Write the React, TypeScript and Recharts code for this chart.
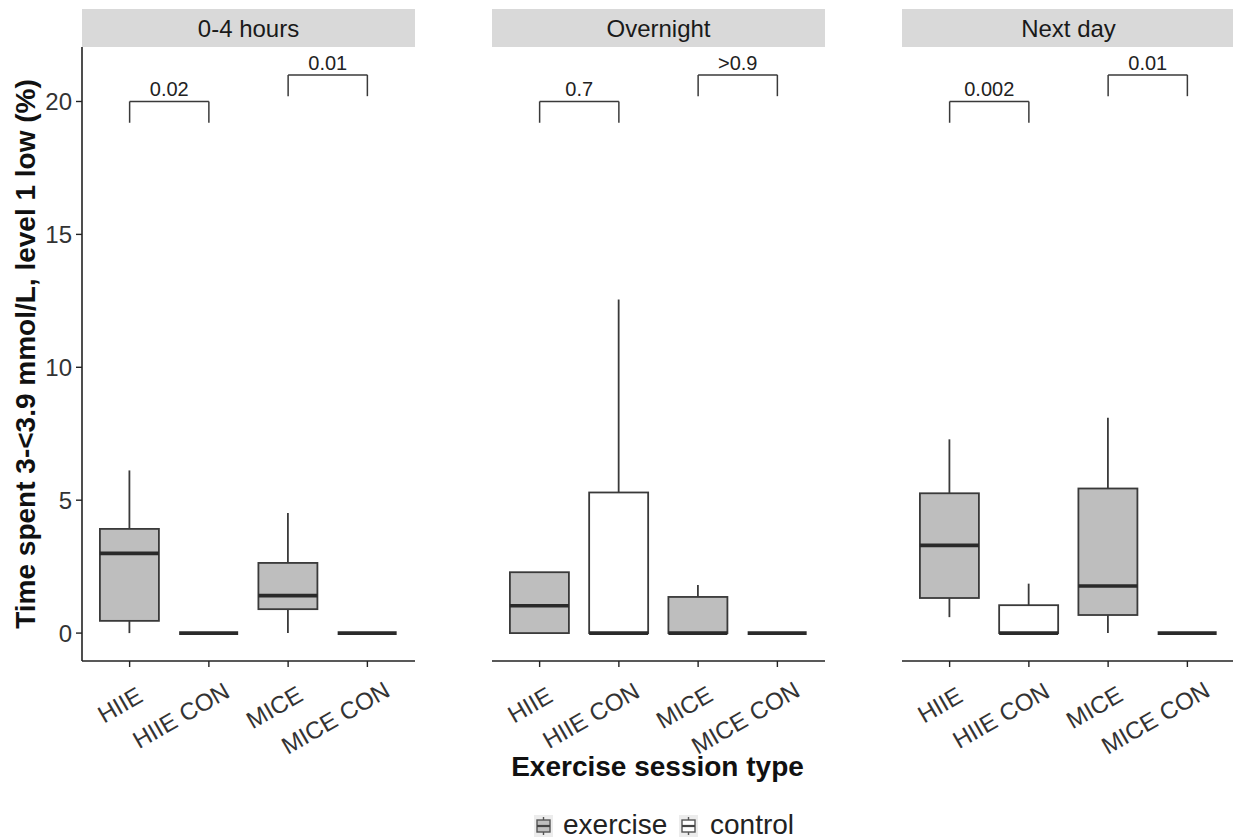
import React from "react";
import { ComposedChart, Bar, XAxis, YAxis, ReferenceLine } from "recharts";

const periods = ["0-4 hours", "Overnight", "Next day"];
const sessions = ["HIIE", "HIIE CON", "MICE", "MICE CON"];
const arms = ["exercise", "control", "exercise", "control"];

// box statistics per period (rows) and session (columns), % of time
const whiskerLow = [
  [0, 0, 0, 0],
  [0, 0, 0, 0],
  [0.6, 0, 0, 0],
];
const hingeLow = [
  [0.46, 0, 0.9, 0],
  [0, 0, 0, 0],
  [1.32, 0, 0.68, 0],
];
const medians = [
  [3.0, 0, 1.41, 0],
  [1.03, 0, 0, 0],
  [3.3, 0, 1.77, 0],
];
const hingeHigh = [
  [3.92, 0, 2.64, 0],
  [2.29, 5.29, 1.36, 0],
  [5.26, 1.05, 5.44, 0],
];
const whiskerHigh = [
  [6.12, 0, 4.52, 0],
  [2.29, 12.55, 1.81, 0],
  [7.29, 1.86, 8.1, 0],
];

// p-values for HIIE vs HIIE CON and MICE vs MICE CON
const pHiie = ["0.02", "0.7", "0.002"];
const pMice = ["0.01", ">0.9", "0.01"];
const bracketLevels = [20, 21];
const bracketTip = 0.8;

const yTicks = [0, 5, 10, 15, 20];
const yDomain = [-1.05, 22.05];

const FONT = '"Liberation Sans", Arial, Helvetica, sans-serif';
const INK = "#3a3a3a";
const TEXT = "#333333";
const EXERCISE_FILL = "#bebebe";
const CONTROL_FILL = "#ffffff";

const PLOT_W = 333;
const PLOT_TOP = 47;
const PLOT_BOTTOM = 661;
const CHART_H = 780;
const panelLeft = [82, 492, 902];

// rough Liberation Sans advance widths (em) for the tick label glyphs
const glyphWidth: Record<string, number> = { H: 0.722, I: 0.278, E: 0.667, C: 0.722, O: 0.778, N: 0.722, M: 0.833, " ": 0.278 };
const textWidth = (s: string, size: number) => s.split("").reduce((w, c) => w + (glyphWidth[c] ?? 0.6), 0) * size;

function BoxShape(props: any) {
  const { x, y, width, height, payload } = props;
  const { lo, q1, median, q3, hi, arm } = payload;
  const top = Math.min(y, y + height);
  const span = Math.abs(height);
  // map a value into the bar's pixel span (bar covers lo..hi)
  const py = (v: number) => (hi === lo ? top : top + (span * (hi - v)) / (hi - lo));
  const cx = x + width / 2;
  const fill = arm === "exercise" ? EXERCISE_FILL : CONTROL_FILL;
  const boxTop = py(q3);
  const boxBottom = py(q1);
  return (
    <g>
      {hi > q3 && <line x1={cx} x2={cx} y1={py(hi)} y2={boxTop} stroke={INK} strokeWidth={1.8} />}
      {q1 > lo && <line x1={cx} x2={cx} y1={boxBottom} y2={py(lo)} stroke={INK} strokeWidth={1.8} />}
      {boxBottom - boxTop > 0.5 && (
        <rect x={x} y={boxTop} width={width} height={boxBottom - boxTop} fill={fill} stroke={INK} strokeWidth={1.8} />
      )}
      <line x1={x} x2={x + width} y1={py(median)} y2={py(median)} stroke="#2a2a2a" strokeWidth={3.6} />
    </g>
  );
}

function SessionTick(props: any) {
  const { x, y, payload } = props;
  const size = 24;
  const len = textWidth(payload.value, size);
  return (
    <g transform={`translate(${x},${y + 20}) rotate(-30)`}>
      <text x={-0.85 * len} y={0} dy="0.72em" textAnchor="start" fontSize={size} fontFamily={FONT} fill={TEXT}>
        {payload.value}
      </text>
    </g>
  );
}

function YTitle(props: any) {
  const { viewBox } = props;
  const cy = viewBox.y + viewBox.height / 2;
  const bx = 35;
  return (
    <text
      x={bx}
      y={cy}
      transform={`rotate(-90, ${bx}, ${cy})`}
      textAnchor="middle"
      fontSize={28}
      fontWeight="bold"
      fontFamily={FONT}
      fill="#111"
    >
      Time spent 3-&lt;3.9 mmol/L, level 1 low (%)
    </text>
  );
}

function Bracket(props: { from: string; to: string; level: number; text: string }) {
  const { from, to, level, text } = props;
  const stroke = { stroke: INK, strokeWidth: 1.5 };
  return [
    <ReferenceLine
      key="h"
      segment={[{ x: from, y: level }, { x: to, y: level }]}
      {...stroke}
      label={{ value: text, position: "top", offset: 5, fontSize: 20, fill: "#222", fontFamily: FONT }}
    />,
    <ReferenceLine key="l" segment={[{ x: from, y: level }, { x: from, y: level - bracketTip }]} {...stroke} />,
    <ReferenceLine key="r" segment={[{ x: to, y: level }, { x: to, y: level - bracketTip }]} {...stroke} />,
  ];
}

function Panel({ index }: { index: number }) {
  const rows = sessions.map((s, i) => ({
    session: s,
    arm: arms[i],
    lo: whiskerLow[index][i],
    q1: hingeLow[index][i],
    median: medians[index][i],
    q3: hingeHigh[index][i],
    hi: whiskerHigh[index][i],
  }));
  const first = index === 0;
  const leftPad = first ? 0 : 60;
  const chartW = leftPad + (first ? 82 : 0) + PLOT_W + 15;
  const left = panelLeft[index] - leftPad - (first ? 82 : 0);
  return (
    <div style={{ position: "absolute", left, top: 0 }}>
      <ComposedChart
        width={chartW}
        height={CHART_H}
        data={rows}
        margin={{ top: PLOT_TOP, right: 15, bottom: 0, left: leftPad }}
        barCategoryGap="12.5%"
      >
        <XAxis
          dataKey="session"
          type="category"
          interval={0}
          padding={{ left: 8, right: 8 }}
          height={CHART_H - PLOT_BOTTOM}
          tickSize={6}
          tick={<SessionTick />}
          axisLine={{ stroke: "#222", strokeWidth: 1.6 }}
          tickLine={{ stroke: "#222", strokeWidth: 1.4 }}
        />
        <YAxis
          type="number"
          hide={!first}
          domain={yDomain}
          ticks={yTicks}
          allowDataOverflow
          width={82}
          tickSize={6}
          tickMargin={4}
          tick={{ fontSize: 24, fill: TEXT, fontFamily: FONT }}
          axisLine={{ stroke: "#222", strokeWidth: 1.6 }}
          tickLine={{ stroke: "#222", strokeWidth: 1.4 }}
          label={first ? <YTitle /> : undefined}
        />
        <Bar dataKey={(d: any) => [d.lo, d.hi]} shape={<BoxShape />} isAnimationActive={false} />
        {Bracket({ from: sessions[0], to: sessions[1], level: bracketLevels[0], text: pHiie[index] })}
        {Bracket({ from: sessions[2], to: sessions[3], level: bracketLevels[1], text: pMice[index] })}
      </ComposedChart>
    </div>
  );
}

function LegendKey({ x, fill }: { x: number; fill: string }) {
  return (
    <g>
      <rect x={x} y={815} width={19} height={22} fill="#ececec" />
      <line x1={x + 9.5} x2={x + 9.5} y1={817} y2={835} stroke="#555" strokeWidth={1.4} />
      <rect x={x + 3} y={820} width={13} height={12} fill={fill} stroke="#555" strokeWidth={1.4} />
      <line x1={x + 3} x2={x + 16} y1={826} y2={826} stroke="#444" strokeWidth={2.2} />
    </g>
  );
}

export default function App() {
  return (
    <div
      style={{
        position: "absolute",
        left: 0,
        top: 0,
        width: 1233,
        height: 839,
        overflow: "hidden",
        background: "#fff",
        fontFamily: FONT,
      }}
    >
      <svg width={1233} height={839} style={{ position: "absolute", left: 0, top: 0 }}>
        {periods.map((p, i) => (
          <g key={p}>
            <rect x={panelLeft[i]} y={9} width={PLOT_W} height={38} fill="#d9d9d9" />
            <text
              x={panelLeft[i] + PLOT_W / 2}
              y={37}
              textAnchor="middle"
              fontSize={24}
              fontFamily={FONT}
              fill="#1a1a1a"
            >
              {p}
            </text>
          </g>
        ))}
        <text x={657.5} y={776} textAnchor="middle" fontSize={28} fontWeight="bold" fontFamily={FONT} fill="#111">
          Exercise session type
        </text>
        <LegendKey x={534} fill={EXERCISE_FILL} />
        <text x={563} y={834} fontSize={28} fontFamily={FONT} fill="#222">
          exercise
        </text>
        <LegendKey x={679} fill={CONTROL_FILL} />
        <text x={710} y={834} fontSize={28} fontFamily={FONT} fill="#222">
          control
        </text>
      </svg>
      {periods.map((p, i) => (
        <Panel key={p} index={i} />
      ))}
    </div>
  );
}
